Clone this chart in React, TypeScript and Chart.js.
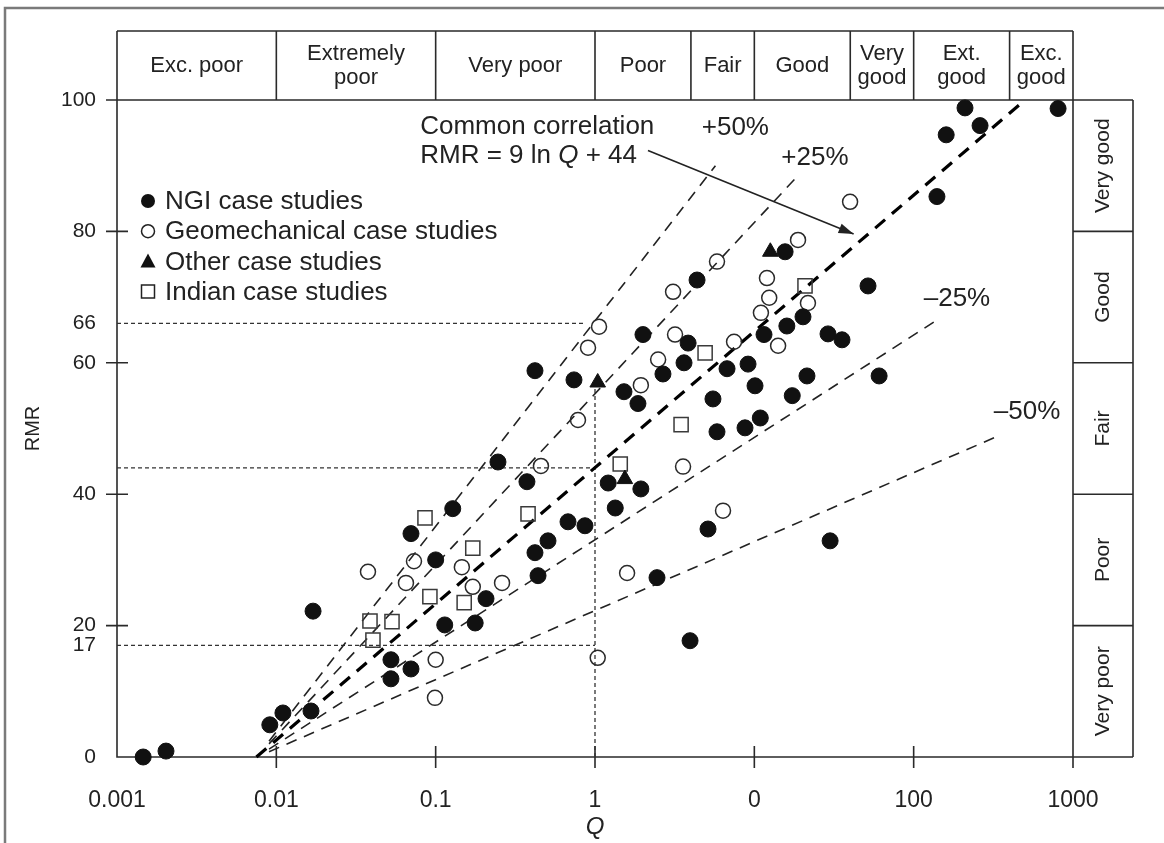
import React, { useEffect, useRef } from 'react';
import { Chart, registerables } from 'chart.js';

Chart.register(...registerables);

// ---------------- data ----------------
const xTickValues = [0.001, 0.01, 0.1, 1, 10, 100, 1000];
const xTickLabels = ['0.001', '0.01', '0.1', '1', '0', '100', '1000'];
const yTickValues = [0, 17, 20, 40, 60, 66, 80, 100];
const yTickLabels = ['0', '17', '20', '40', '60', '66', '80', '100'];
const yCrossTicks = [20, 40, 60, 80, 100];

const qClassBounds = [0.001, 0.01, 0.1, 1, 4, 10, 40, 100, 400, 1000];
const qClassLabels = [
  ['Exc. poor'], ['Extremely', 'poor'], ['Very poor'], ['Poor'], ['Fair'], ['Good'],
  ['Very', 'good'], ['Ext.', 'good'], ['Exc.', 'good'],
];
const rmrClassBounds = [0, 20, 40, 60, 80, 100];
const rmrClassLabels = ['Very poor', 'Poor', 'Fair', 'Good', 'Very good'];

const ngiPoints: [number, number][] = [
  [0.00146, 0], [0.00203, 0.9], [0.0091, 4.9], [0.011, 6.7], [0.0165, 7.0], [0.017, 22.2],
  [0.0524, 14.8], [0.0524, 11.9], [0.07, 13.4], [0.07, 34.0], [0.128, 37.8], [0.1, 30.0],
  [0.207, 24.1], [0.114, 20.1], [0.177, 20.4], [0.42, 31.1], [0.507, 32.9], [0.439, 27.6],
  [0.677, 35.8], [0.865, 35.2], [0.246, 44.9], [0.374, 41.9], [0.42, 58.8], [1.21, 41.7],
  [1.34, 37.9], [1.94, 40.8], [2.45, 27.3], [0.738, 57.4], [1.52, 55.6], [1.86, 53.8],
  [2.0, 64.3], [2.67, 58.3], [3.62, 60.0], [3.84, 63.0], [4.37, 72.6], [5.12, 34.7],
  [3.95, 17.7], [5.5, 54.5], [5.83, 49.5], [6.74, 59.1], [8.74, 50.1], [9.13, 59.8],
  [10.1, 56.5], [10.9, 51.6], [11.5, 64.3], [15.6, 76.9], [16.0, 65.6], [17.3, 55.0],
  [20.2, 67.0], [21.4, 58.0], [29.0, 64.4], [35.5, 63.5], [29.9, 32.9], [51.7, 71.7],
  [60.7, 58.0], [140, 85.3], [160, 94.7], [210, 98.8], [261, 96.1], [806, 98.7],
];
const geomechPoints: [number, number][] = [
  [0.0376, 28.2], [0.0731, 29.8], [0.0651, 26.5], [0.146, 28.9], [0.171, 25.9], [0.261, 26.5],
  [0.1, 14.8], [0.099, 9.0], [0.458, 44.3], [1.04, 15.1], [0.782, 51.3], [0.904, 62.3],
  [1.06, 65.5], [1.94, 56.6], [2.49, 60.5], [3.18, 64.3], [3.09, 70.8], [5.83, 75.4],
  [7.46, 63.2], [3.57, 44.2], [6.36, 37.5], [1.59, 28.0], [11.0, 67.6], [12.4, 69.9],
  [12.0, 72.9], [14.1, 62.6], [21.7, 69.1], [18.8, 78.7], [39.9, 84.5],
];
const otherPoints: [number, number][] = [[1.04, 57.0], [1.54, 42.3], [12.6, 76.9]];
const indianPoints: [number, number][] = [
  [0.0387, 20.7], [0.0532, 20.6], [0.0404, 17.8], [0.0857, 36.4], [0.171, 31.8], [0.092, 24.4],
  [0.151, 23.5], [0.38, 37.0], [1.44, 44.6], [3.47, 50.6], [4.91, 61.5], [20.8, 71.7],
];

// correlation lines (end points)
const commonLine: [number, number][] = [[0.0075, 0], [500, 100]];
const plus50Line: [number, number][] = [[0.009, 2.4], [5.7, 90]];
const plus25Line: [number, number][] = [[0.009, 2.0], [18, 88]];
const minus25Line: [number, number][] = [[0.009, 1.2], [140, 66.5]];
const minus50Line: [number, number][] = [[0.009, 0.8], [350, 49]];

// dotted guide lines
const guide66: [number, number][] = [[0.001, 66], [0.87, 66]];
const guide44: [number, number][] = [[0.001, 44], [1, 44]];
const guide17: [number, number][] = [[0.001, 17], [1, 17]];
const guideQ1: [number, number][] = [[1, 0], [1, 57]];

const lineLabels = ['+50%', '+25%', '\u201325%', '\u201350%'];
const lineLabelAnchors: [number, number][] = [[7.6, 95.8], [24, 91.2], [187, 69.7], [515, 52.5]];

const legendLabels = ['NGI case studies', 'Geomechanical case studies', 'Other case studies', 'Indian case studies'];

// ---------------- styling / layout ----------------
const W = 1164;
const H = 843;
const FONT = '"Liberation Sans", Arial, Helvetica, sans-serif';
const INK = '#222';
const BAND_TOP = 31;
const BAND_RIGHT = 1133;

const toXY = (arr: [number, number][]) => arr.map(([x, y]) => ({ x, y }));

const lineDs = (arr: [number, number][], width: number, dash: number[], color: string) => ({
  data: toXY(arr),
  showLine: true,
  pointRadius: 0,
  pointHoverRadius: 0,
  borderColor: color,
  borderWidth: width,
  borderDash: dash,
  fill: false,
  clip: false,
});

function drawMarker(ctx: CanvasRenderingContext2D, kind: string, cx: number, cy: number) {
  ctx.save();
  ctx.lineWidth = 1.5;
  ctx.strokeStyle = '#222';
  ctx.fillStyle = '#111';
  ctx.beginPath();
  if (kind === 'disc') {
    ctx.arc(cx, cy, 7, 0, Math.PI * 2);
    ctx.fill();
  } else if (kind === 'ring') {
    ctx.arc(cx, cy, 6.5, 0, Math.PI * 2);
    ctx.stroke();
  } else if (kind === 'tri') {
    ctx.moveTo(cx, cy - 8);
    ctx.lineTo(cx + 7.5, cy + 6);
    ctx.lineTo(cx - 7.5, cy + 6);
    ctx.closePath();
    ctx.fill();
  } else {
    ctx.rect(cx - 6.5, cy - 6.5, 13, 13);
    ctx.stroke();
  }
  ctx.restore();
}

const overlayPlugin = {
  id: 'overlay',
  beforeDraw(chart: any) {
    const { ctx } = chart;
    ctx.save();
    ctx.fillStyle = '#fff';
    ctx.fillRect(0, 0, W, H);
    ctx.restore();
  },
  beforeDatasetsDraw(chart: any) {
    const { ctx, chartArea: a, scales } = chart;
    const x = scales.x;
    const y = scales.y;
    ctx.save();
    // outer frame of the figure
    ctx.strokeStyle = '#7a7a7a';
    ctx.lineWidth = 2.5;
    ctx.beginPath();
    ctx.moveTo(5, H);
    ctx.lineTo(5, 8);
    ctx.lineTo(W, 8);
    ctx.stroke();

    ctx.strokeStyle = '#2a2a2a';
    ctx.lineWidth = 1.6;
    ctx.beginPath();
    // axes / plot box
    ctx.moveTo(a.left, BAND_TOP);
    ctx.lineTo(a.left, a.bottom);
    ctx.lineTo(BAND_RIGHT, a.bottom);
    ctx.moveTo(a.left, a.top);
    ctx.lineTo(BAND_RIGHT, a.top);
    ctx.moveTo(a.right, BAND_TOP);
    ctx.lineTo(a.right, a.bottom);
    // top band
    ctx.moveTo(a.left, BAND_TOP);
    ctx.lineTo(a.right, BAND_TOP);
    qClassBounds.slice(1, -1).forEach((b) => {
      const px = x.getPixelForValue(b);
      ctx.moveTo(px, BAND_TOP);
      ctx.lineTo(px, a.top);
    });
    // right band
    ctx.moveTo(BAND_RIGHT, a.top);
    ctx.lineTo(BAND_RIGHT, a.bottom);
    rmrClassBounds.slice(1, -1).forEach((b) => {
      const py = y.getPixelForValue(b);
      ctx.moveTo(a.right, py);
      ctx.lineTo(BAND_RIGHT, py);
    });
    // tick marks
    xTickValues.slice(1).forEach((v) => {
      const px = x.getPixelForValue(v);
      ctx.moveTo(px, a.bottom - 11);
      ctx.lineTo(px, a.bottom + 11);
    });
    yCrossTicks.forEach((v) => {
      const py = y.getPixelForValue(v);
      ctx.moveTo(a.left - 11, py);
      ctx.lineTo(a.left + 11, py);
    });
    ctx.stroke();
    ctx.restore();
  },
  afterDraw(chart: any) {
    const { ctx, chartArea: a, scales } = chart;
    const x = scales.x;
    const y = scales.y;
    ctx.save();
    ctx.fillStyle = INK;
    ctx.textAlign = 'center';
    ctx.textBaseline = 'middle';

    // top band labels (Q classes)
    ctx.font = `22px ${FONT}`;
    const bandMid = (BAND_TOP + a.top) / 2;
    qClassLabels.forEach((lines, i) => {
      const cx = (x.getPixelForValue(qClassBounds[i]) + x.getPixelForValue(qClassBounds[i + 1])) / 2;
      if (lines.length === 1) {
        ctx.fillText(lines[0], cx, bandMid);
      } else {
        ctx.fillText(lines[0], cx, bandMid - 12);
        ctx.fillText(lines[1], cx, bandMid + 12);
      }
    });

    // right band labels (RMR classes)
    ctx.font = `21px ${FONT}`;
    const rcx = (a.right + BAND_RIGHT) / 2;
    rmrClassLabels.forEach((lab, i) => {
      const cy = (y.getPixelForValue(rmrClassBounds[i]) + y.getPixelForValue(rmrClassBounds[i + 1])) / 2;
      ctx.save();
      ctx.translate(rcx, cy);
      ctx.rotate(-Math.PI / 2);
      ctx.fillText(lab, 0, 0);
      ctx.restore();
    });

    // percentage labels of the correlation lines
    ctx.font = `26px ${FONT}`;
    lineLabels.forEach((lab, i) => {
      const [q, r] = lineLabelAnchors[i];
      ctx.fillText(lab, x.getPixelForValue(q), y.getPixelForValue(r));
    });

    // common correlation annotation
    ctx.textAlign = 'left';
    const tx = x.getPixelForValue(0.08);
    ctx.font = `26px ${FONT}`;
    ctx.fillText('Common correlation', tx, y.getPixelForValue(95.9));
    const ly = y.getPixelForValue(91.5);
    const p1 = 'RMR = 9 ln ';
    ctx.fillText(p1, tx, ly);
    let cx = tx + ctx.measureText(p1).width;
    ctx.font = `italic 26px ${FONT}`;
    ctx.fillText('Q', cx, ly);
    cx += ctx.measureText('Q').width;
    ctx.font = `26px ${FONT}`;
    ctx.fillText(' + 44', cx, ly);

    // arrow
    const ax1 = x.getPixelForValue(2.15);
    const ay1 = y.getPixelForValue(92.3);
    const ax2 = x.getPixelForValue(42);
    const ay2 = y.getPixelForValue(79.6);
    ctx.strokeStyle = '#222';
    ctx.lineWidth = 1.6;
    ctx.beginPath();
    ctx.moveTo(ax1, ay1);
    ctx.lineTo(ax2, ay2);
    ctx.stroke();
    const ang = Math.atan2(ay2 - ay1, ax2 - ax1);
    ctx.beginPath();
    ctx.moveTo(ax2, ay2);
    ctx.lineTo(ax2 - 15 * Math.cos(ang) + 5 * Math.sin(ang), ay2 - 15 * Math.sin(ang) - 5 * Math.cos(ang));
    ctx.lineTo(ax2 - 15 * Math.cos(ang) - 5 * Math.sin(ang), ay2 - 15 * Math.sin(ang) + 5 * Math.cos(ang));
    ctx.closePath();
    ctx.fillStyle = '#222';
    ctx.fill();

    // legend
    const kinds = ['disc', 'ring', 'tri', 'square'];
    ctx.font = `26px ${FONT}`;
    ctx.fillStyle = INK;
    legendLabels.forEach((lab, i) => {
      const ry = 201 + i * 30.2;
      drawMarker(ctx, kinds[i], 148, ry);
      ctx.fillStyle = INK;
      ctx.fillText(lab, 165, ry + 1);
    });
    ctx.restore();
  },
};

export default function App() {
  const ref = useRef<HTMLCanvasElement>(null);
  useEffect(() => {
    const canvas = ref.current;
    if (!canvas) return;
    const chart = new Chart(canvas, {
      type: 'scatter',
      data: {
        datasets: [
          {
            label: 'NGI case studies',
            data: toXY(ngiPoints),
            pointStyle: 'circle',
            pointRadius: 8,
            backgroundColor: '#111',
            borderColor: '#111',
            borderWidth: 1,
            clip: false,
          },
          {
            label: 'Geomechanical case studies',
            data: toXY(geomechPoints),
            pointStyle: 'circle',
            pointRadius: 7.5,
            backgroundColor: 'rgba(255,255,255,0)',
            borderColor: '#2a2a2a',
            borderWidth: 1.5,
            clip: false,
          },
          {
            label: 'Other case studies',
            data: toXY(otherPoints),
            pointStyle: 'triangle',
            pointRadius: 9,
            backgroundColor: '#111',
            borderColor: '#111',
            borderWidth: 1,
            clip: false,
          },
          {
            label: 'Indian case studies',
            data: toXY(indianPoints),
            pointStyle: 'rect',
            pointRadius: 10,
            backgroundColor: 'rgba(255,255,255,0)',
            borderColor: '#3a3a3a',
            borderWidth: 1.5,
            clip: false,
          },
          lineDs(commonLine, 3.2, [13, 9], '#000'),
          lineDs(plus50Line, 1.6, [11, 8], '#222'),
          lineDs(plus25Line, 1.6, [11, 8], '#222'),
          lineDs(minus25Line, 1.6, [11, 8], '#222'),
          lineDs(minus50Line, 1.6, [11, 8], '#222'),
          lineDs(guide66, 1.3, [4, 3], '#333'),
          lineDs(guide44, 1.3, [4, 3], '#333'),
          lineDs(guide17, 1.3, [4, 3], '#333'),
          lineDs(guideQ1, 1.3, [4, 3], '#333'),
        ],
      },
      options: {
        responsive: false,
        animation: false,
        devicePixelRatio: 1,
        events: [],
        layout: { padding: { top: 100, right: W - 1073, left: 0, bottom: 0 } },
        plugins: { legend: { display: false }, tooltip: { enabled: false } },
        scales: {
          x: {
            type: 'logarithmic',
            position: 'bottom',
            min: 0.001,
            max: 1000,
            afterBuildTicks: (s: any) => {
              s.ticks = xTickValues.map((v) => ({ value: v }));
            },
            afterFit: (s: any) => {
              s.height = H - 757;
            },
            grid: { display: false, drawTicks: false },
            border: { display: false },
            ticks: {
              autoSkip: false,
              maxRotation: 0,
              padding: 30,
              color: INK,
              font: { family: FONT, size: 23 },
              callback: (_v: any, i: number) => xTickLabels[i],
            },
            title: {
              display: true,
              text: 'Q',
              color: INK,
              font: { family: FONT, size: 24, style: 'italic' },
              padding: { top: 0, bottom: 1 },
            },
          },
          y: {
            type: 'linear',
            position: 'left',
            min: 0,
            max: 100,
            afterBuildTicks: (s: any) => {
              s.ticks = yTickValues.map((v) => ({ value: v }));
            },
            afterFit: (s: any) => {
              s.width = 117;
            },
            grid: { display: false, drawTicks: false },
            border: { display: false },
            ticks: {
              autoSkip: false,
              padding: 21,
              color: INK,
              font: { family: FONT, size: 21 },
              callback: (_v: any, i: number) => yTickLabels[i],
            },
            title: {
              display: true,
              text: 'RMR',
              color: INK,
              font: { family: FONT, size: 20 },
              padding: { top: 21, bottom: 0 },
            },
          },
        },
      },
      plugins: [overlayPlugin],
    } as any);
    return () => chart.destroy();
  }, []);
  return (
    <div style={{ position: 'fixed', left: 0, top: 0, width: W, height: H, background: '#fff' }}>
      <canvas ref={ref} width={W} height={H} style={{ display: 'block' }} />
    </div>
  );
}
